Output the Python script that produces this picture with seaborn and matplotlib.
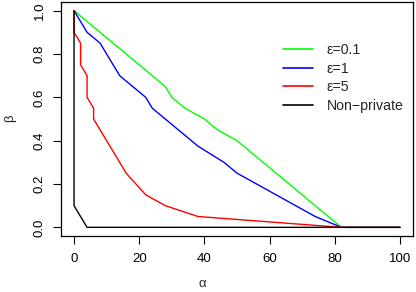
import matplotlib
matplotlib.use("Agg")
import matplotlib.pyplot as plt
import seaborn as sns
import pandas as pd

# --- data ---
green_alpha = [0, 28, 30, 34, 40, 44, 50, 82, 100]
green_beta = [1.0, 0.65, 0.60, 0.55, 0.50, 0.45, 0.40, 0.0, 0.0]

blue_alpha = [0, 4, 8, 14, 22, 24, 38, 46, 50, 74, 82, 100]
blue_beta = [1.0, 0.90, 0.85, 0.70, 0.60, 0.55, 0.375, 0.30, 0.25, 0.05, 0.0, 0.0]

red_alpha = [0, 0, 2, 2, 4, 4, 6, 6, 16, 19, 22, 28, 38, 82, 100]
red_beta = [1.0, 0.90, 0.85, 0.75, 0.70, 0.60, 0.55, 0.50, 0.25, 0.20, 0.15, 0.10, 0.05, 0.0, 0.0]

black_alpha = [0, 0, 4, 100]
black_beta = [1.0, 0.10, 0.0, 0.0]

labels = ["ε=0.1", "ε=1", "ε=5", "Non\u2212private"]
colors = ["#00FF00", "#0000FF", "#FF0000", "#000000"]
x_ticks = [0, 20, 40, 60, 80, 100]
y_ticks = [0.0, 0.2, 0.4, 0.6, 0.8, 1.0]

frames = []
for lab, a, b in zip(labels,
                     [green_alpha, blue_alpha, red_alpha, black_alpha],
                     [green_beta, blue_beta, red_beta, black_beta]):
    frames.append(pd.DataFrame({"alpha": a, "beta": b, "series": lab}))
df = pd.concat(frames, ignore_index=True)

sns.set_style("ticks")
plt.rcParams["font.family"] = ["Liberation Sans", "DejaVu Sans"]

W, H = 416, 292
fig = plt.figure(figsize=(W / 100, H / 100), dpi=100)
ax = fig.add_axes([61 / W, (H - 236) / H, (413 - 61) / W, (236 - 2) / H])

sns.lineplot(data=df, x="alpha", y="beta", hue="series", hue_order=labels,
             palette=dict(zip(labels, colors)), estimator=None, sort=False,
             linewidth=1.0, ax=ax, legend=False)

ax.set_xlim(-4, 104)
ax.set_ylim(-0.04, 1.04)
ax.set_xticks(x_ticks)
ax.set_xticklabels([str(t) for t in x_ticks])
ax.set_yticks(y_ticks)
ax.set_yticklabels([f"{t:.1f}" for t in y_ticks], rotation=90, va="center")
ax.tick_params(axis="both", direction="out", length=5.5, width=0.8,
               labelsize=9.5, color="black", labelcolor="black")
ax.tick_params(axis="y", pad=5.5)
ax.tick_params(axis="x", pad=6.5)
for s in ax.spines.values():
    s.set_visible(True)
    s.set_color("black")
    s.set_linewidth(0.9)

ax.set_xlabel("")
ax.set_ylabel("")
fig.text(202 / W, 1 - 284 / H, "α", ha="center", va="center", fontsize=9.5)
fig.text(10 / W, 1 - 118 / H, "β", ha="center", va="center", fontsize=9.5,
         rotation=90)

from matplotlib.lines import Line2D
handles = [Line2D([], [], color=c, lw=1.2) for c in colors]
leg = fig.legend(handles, labels, loc="upper left",
                 bbox_to_anchor=(283 / W, 1 - 43 / H), frameon=False,
                 fontsize=10.2, handlelength=2.15, handletextpad=0.95,
                 labelspacing=0.33, borderpad=0, borderaxespad=0)

fig.savefig("out.png", dpi=100)
